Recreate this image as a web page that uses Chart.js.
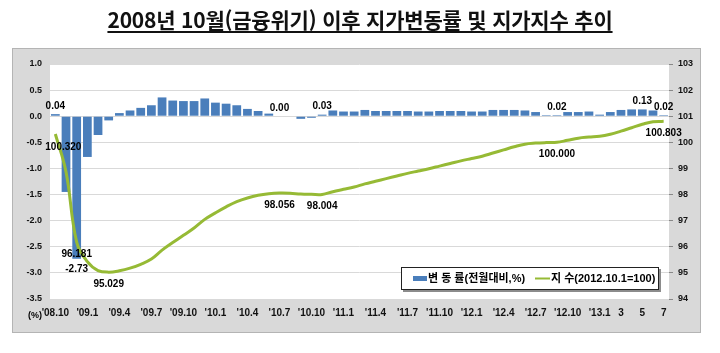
<!DOCTYPE html>
<html lang="ko">
<head>
<meta charset="utf-8">
<script src="https://cdn.jsdelivr.net/npm/chart.js@4/dist/chart.umd.min.js"></script>
<style>
    html, body { margin: 0; padding: 0; background: #fff; }
    #wrap { position: relative; width: 720px; height: 353px; }
    #chart { position: absolute; left: 0; top: 0; }
    #title {
        position: absolute; left: 0; top: 4px; width: 720px; text-align: center;
        font: bold 21px "Noto Sans CJK KR", sans-serif; color: #111;
        text-decoration: underline; text-underline-offset: 3px; letter-spacing: -0.2px;
    }
</style>
</head>
<body>
<div id="wrap">
    <canvas id="chart" width="720" height="353"></canvas>
    <div id="title">2008년 10월(금융위기) 이후 지가변동률 및 지가지수 추이</div>
</div>
<script>
// 월 (2008.10 ~ 2013.7)
const months = [
    '08.10', '08.11', '08.12',
    '09.1', '09.2', '09.3', '09.4', '09.5', '09.6', '09.7', '09.8', '09.9', '09.10', '09.11', '09.12',
    '10.1', '10.2', '10.3', '10.4', '10.5', '10.6', '10.7', '10.8', '10.9', '10.10', '10.11', '10.12',
    '11.1', '11.2', '11.3', '11.4', '11.5', '11.6', '11.7', '11.8', '11.9', '11.10', '11.11', '11.12',
    '12.1', '12.2', '12.3', '12.4', '12.5', '12.6', '12.7', '12.8', '12.9', '12.10', '12.11', '12.12',
    '13.1', '13.2', '13.3', '13.4', '13.5', '13.6', '13.7'
];

// 변동률(전월대비, %)
const changeRates = [
    0.04, -1.45, -2.73,
    -0.78, -0.36, -0.08, 0.06, 0.11, 0.16, 0.21, 0.36, 0.30, 0.29, 0.29, 0.34,
    0.26, 0.24, 0.21, 0.14, 0.10, 0.05, 0.00, -0.01, -0.05, -0.03, 0.03, 0.11,
    0.09, 0.09, 0.12, 0.10, 0.10, 0.10, 0.10, 0.09, 0.09, 0.10, 0.10, 0.10,
    0.09, 0.09, 0.12, 0.12, 0.12, 0.11, 0.08, 0.02, 0.02, 0.08, 0.08, 0.09,
    0.03, 0.08, 0.12, 0.13, 0.13, 0.11, 0.02
];

// 지수 (2012.10.1=100)
const landIndex = [
    100.320, 98.87, 96.181,
    95.43, 95.09, 95.029, 95.08, 95.18, 95.33, 95.53, 95.87, 96.16, 96.44, 96.72, 97.05,
    97.30, 97.53, 97.73, 97.87, 97.97, 98.03, 98.056, 98.05, 98.02, 98.01, 98.004, 98.11,
    98.20, 98.29, 98.41, 98.51, 98.61, 98.71, 98.81, 98.90, 98.99, 99.09, 99.19, 99.29,
    99.38, 99.47, 99.59, 99.71, 99.83, 99.93, 99.97, 99.99, 100.000, 100.08, 100.16, 100.20,
    100.23, 100.31, 100.43, 100.56, 100.69, 100.79, 100.803
];

// x축 눈금
const tickMonths = ['08.10', '09.1', '09.4', '09.7', '09.10', '10.1', '10.4', '10.7', '10.10',
    '11.1', '11.4', '11.7', '11.10', '12.1', '12.4', '12.7', '12.10', '13.1', '13.3', '13.5', '13.7'];
const tickTexts = ["'08.10", "'09.1", "'09.4", "'09.7", "'09.10", "'10.1", "'10.4", "'10.7", "'10.10",
    "'11.1", "'11.4", "'11.7", "'11.10", "'12.1", "'12.4", "'12.7", "'12.10", "'13.1", '3', '5', '7'];

// 값 표시할 지점
const rateLabelMonths = ['08.10', '08.12', '10.7', '10.11', '12.9', '13.5', '13.7'];
const indexLabelMonths = ['08.10', '08.12', '09.3', '10.7', '10.11', '12.9', '13.7'];

const FONT = '"Liberation Sans", Arial, "Noto Sans CJK KR", sans-serif';
const BLUE = '#4a7ebb';
const GREEN = '#96ba35';

const panelPlugin = {
    id: 'panel',
    beforeDraw(chart) {
        const { ctx, chartArea: a } = chart;
        ctx.save();
        ctx.fillStyle = '#fff';
        ctx.fillRect(0, 0, chart.width, chart.height);
        ctx.fillStyle = '#d9d9d9';
        ctx.fillRect(12, 48, 689, 285);
        ctx.strokeStyle = '#b4b4b4';
        ctx.lineWidth = 1;
        ctx.strokeRect(12.5, 48.5, 688, 284);
        ctx.fillStyle = '#fff';
        ctx.fillRect(a.left, a.top, a.right - a.left, a.bottom - a.top);
        ctx.restore();
    }
};

const labelPlugin = {
    id: 'valueLabels',
    afterDraw(chart) {
        const ctx = chart.ctx;
        ctx.save();
        ctx.font = 'bold 10px ' + FONT;
        ctx.fillStyle = '#000';
        ctx.textAlign = 'center';
        ctx.textBaseline = 'middle';

        const bars = chart.getDatasetMeta(0).data;
        rateLabelMonths.forEach(m => {
            const i = months.indexOf(m);
            const v = changeRates[i];
            const el = bars[i];
            ctx.fillText(v.toFixed(2), el.x, el.y + (v < 0 ? 10 : -8));
        });

        const pts = chart.getDatasetMeta(1).data;
        indexLabelMonths.forEach((m, k) => {
            const i = months.indexOf(m);
            const el = pts[i];
            ctx.fillText(landIndex[i].toFixed(3), el.x + (k === 0 ? 8 : 0), el.y + (k === 0 ? 13 : 12));
        });

        // (%) 단위
        ctx.font = 'bold 9px ' + FONT;
        ctx.fillText('(%)', 35, 316);

        // 범례
        ctx.fillStyle = '#8c8c8c';
        ctx.fillRect(403, 269, 258, 23);
        ctx.fillStyle = '#fff';
        ctx.fillRect(401, 267, 258, 23);
        ctx.strokeStyle = '#222';
        ctx.strokeRect(401.5, 267.5, 257, 22);
        ctx.fillStyle = BLUE;
        ctx.fillRect(413, 276, 14, 5);
        ctx.strokeStyle = GREEN;
        ctx.lineWidth = 2;
        ctx.beginPath();
        ctx.moveTo(535, 278.5);
        ctx.lineTo(550, 278.5);
        ctx.stroke();
        ctx.fillStyle = '#000';
        ctx.textAlign = 'left';
        ctx.font = 'bold 11px ' + FONT;
        ctx.fillText('변 동 률(전월대비,%)', 428, 279);
        ctx.fillText('지 수(2012.10.1=100)', 551, 279);
        ctx.restore();
    }
};

new Chart(document.getElementById('chart'), {
    data: {
        labels: months,
        datasets: [
            {
                type: 'bar', label: '변 동 률(전월대비,%)', data: changeRates, yAxisID: 'y',
                backgroundColor: BLUE, barPercentage: 0.82, categoryPercentage: 1.0, order: 2
            },
            {
                type: 'line', label: '지 수(2012.10.1=100)', data: landIndex, yAxisID: 'y1',
                borderColor: GREEN, borderWidth: 3, pointRadius: 0, tension: 0.4, order: 1
            }
        ]
    },
    options: {
        responsive: false,
        animation: false,
        layout: { padding: { top: 64, left: 0, right: 0, bottom: 0 } },
        plugins: { legend: { display: false }, tooltip: { enabled: false } },
        scales: {
            x: {
                offset: true,
                grid: { display: false, drawTicks: false },
                border: { display: false },
                ticks: {
                    autoSkip: false, maxRotation: 0, minRotation: 0, padding: 8,
                    color: '#111', font: { family: FONT, size: 10, weight: 'bold' },
                    callback: (v, i) => {
                        const k = tickMonths.indexOf(months[i]);
                        return k >= 0 ? tickTexts[k] : '';
                    }
                },
                afterFit: s => { s.height = 54; }
            },
            y: {
                position: 'left', min: -3.5, max: 1.0,
                grid: { color: '#d9d9d9', drawTicks: false },
                border: { display: false },
                ticks: {
                    stepSize: 0.5, padding: 8, color: '#111',
                    font: { family: FONT, size: 9, weight: 'bold' },
                    callback: v => v.toFixed(1)
                },
                afterFit: s => { s.width = 50; }
            },
            y1: {
                position: 'right', min: 94, max: 103,
                grid: { drawOnChartArea: false, drawTicks: true, tickLength: 4, color: '#888' },
                border: { display: false },
                ticks: {
                    stepSize: 1, padding: 5, color: '#111',
                    font: { family: FONT, size: 9, weight: 'bold' }
                },
                afterFit: s => { s.width = 51; }
            }
        }
    },
    plugins: [panelPlugin, labelPlugin]
});
</script>
</body>
</html>
